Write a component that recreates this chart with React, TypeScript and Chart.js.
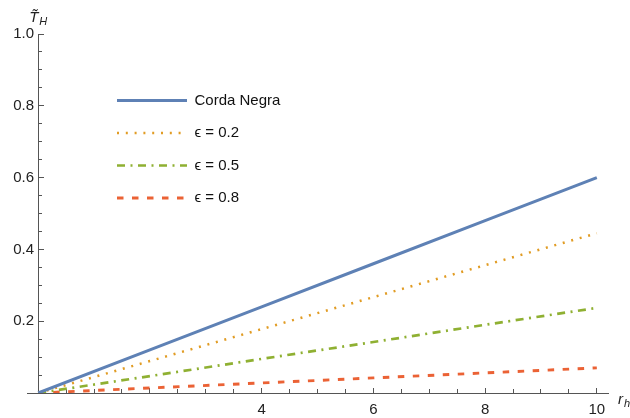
import React, { useEffect, useRef } from 'react';
import { Chart, registerables } from 'chart.js';

Chart.register(...registerables);

// ---- data ----
const xValues = [0, 2, 4, 6, 8, 10];
const cordaNegra = [0, 0.12, 0.24, 0.36, 0.48, 0.6];
const eps02 = [0, 0.089, 0.178, 0.267, 0.356, 0.445];
const eps05 = [0, 0.047, 0.095, 0.142, 0.19, 0.237];
const eps08 = [0, 0.014, 0.028, 0.042, 0.056, 0.07];
const seriesLabels = ['Corda Negra', 'ϵ = 0.2', 'ϵ = 0.5', 'ϵ = 0.8'];

const xMajorTicks = [2, 4, 6, 8, 10];
const xLabeledTicks = [4, 6, 8, 10];
const xMinorTicks = [0.5, 1, 1.5, 2.5, 3, 3.5, 4.5, 5, 5.5, 6.5, 7, 7.5, 8.5, 9, 9.5];
const yMajorTicks = [0.2, 0.4, 0.6, 0.8, 1.0];
const yMinorTicks = [0.05, 0.1, 0.15, 0.25, 0.3, 0.35, 0.45, 0.5, 0.55, 0.65, 0.7, 0.75, 0.85, 0.9, 0.95];

const FONT = "'Liberation Sans', Arial, sans-serif";
const AXIS = '#555555';
const TEXT = '#222222';

const toPoints = (ys: number[]) => xValues.map((x, i) => ({ x, y: ys[i] }));

const legendPlacer = {
  id: 'legendPlacer',
  afterLayout(chart: any) {
    const l = chart.legend;
    if (!l) return;
    const pad = l.options.labels.padding;
    const w = l.width;
    const h = l.height;
    l.left = 117 - pad;
    l.top = 93 - pad;
    l.right = l.left + w;
    l.bottom = l.top + h;
  },
};

const axisTitles = {
  id: 'axisTitles',
  afterDraw(chart: any) {
    const ctx = chart.ctx;
    const xs = chart.scales.x;
    const ys = chart.scales.y;
    const axisX = xs.getPixelForValue(0);
    const axisY = ys.getPixelForValue(0);
    const topY = ys.getPixelForValue(1);
    const rightX = chart.chartArea.right;
    ctx.save();
    ctx.fillStyle = TEXT;
    ctx.textBaseline = 'alphabetic';
    ctx.textAlign = 'left';
    // y title: T~ with subscript H
    ctx.font = `italic 15px ${FONT}`;
    const tx = axisX - 9;
    const ty = topY - 12;
    ctx.fillText('T\u0303', tx, ty);
    const tw = ctx.measureText('T').width;
    ctx.font = `italic 11px ${FONT}`;
    ctx.fillText('H', tx + tw + 1, ty + 3);
    // x title: r with subscript h
    ctx.font = `italic 15px ${FONT}`;
    const rx = rightX + 10;
    const ry = axisY + 11;
    ctx.fillText('r', rx, ry);
    const rw = ctx.measureText('r').width;
    ctx.font = `italic 11px ${FONT}`;
    ctx.fillText('h', rx + rw + 1, ry + 3);
    ctx.restore();
  },
};

export default function App() {
  const ref = useRef<HTMLCanvasElement | null>(null);

  useEffect(() => {
    document.body.style.margin = '0';
    const canvas = ref.current;
    if (!canvas) return;

    const mk = (label: string, data: number[], color: string, dash: number[], width: number) => ({
      label,
      data: toPoints(data),
      borderColor: color,
      backgroundColor: color,
      borderWidth: width,
      borderDash: dash,
      borderCapStyle: 'butt',
      pointRadius: 0,
      pointHoverRadius: 0,
      tension: 0,
      fill: false,
      xAxisID: 'x',
      yAxisID: 'y',
    });

    const chart = new Chart(canvas, {
      type: 'line',
      data: {
        datasets: [
          mk(seriesLabels[0], cordaNegra, '#5E81B5', [], 3),
          mk(seriesLabels[1], eps02, '#E19C24', [2, 6.8], 2.5),
          mk(seriesLabels[2], eps05, '#8FB032', [8, 5.5, 2, 5.5], 2.7),
          mk(seriesLabels[3], eps08, '#EB6235', [6.5, 8.5], 2.9),
        ] as any,
      },
      options: {
        responsive: false,
        animation: false,
        events: [],
        layout: { padding: { left: 27, right: 22, top: 34, bottom: 25 } },
        plugins: {
          tooltip: { enabled: false },
          legend: {
            display: true,
            position: 'chartArea' as any,
            align: 'start',
            labels: {
              usePointStyle: true,
              pointStyle: 'line',
              pointStyleWidth: 70,
              boxHeight: 15,
              padding: 17.5,
              color: '#111',
              font: { family: FONT, size: 15 },
              generateLabels: (c: any) => {
                const items = Chart.defaults.plugins.legend.labels.generateLabels(c);
                return items.map((it: any) => {
                  const ds: any = c.data.datasets[it.datasetIndex];
                  return {
                    ...it,
                    pointStyle: 'line',
                    lineDash: ds.borderDash,
                    lineWidth: ds.borderWidth,
                    strokeStyle: ds.borderColor,
                    fillStyle: ds.borderColor,
                    lineCap: 'butt',
                  };
                });
              },
            },
          },
        },
        scales: {
          x: {
            type: 'linear',
            axis: 'x',
            min: -0.2,
            max: 10.2,
            position: { y: 0 } as any,
            afterBuildTicks: (s: any) => {
              s.ticks = xMajorTicks.map((v) => ({ value: v }));
            },
            ticks: {
              autoSkip: false,
              maxRotation: 0,
              padding: 14,
              color: TEXT,
              font: { family: FONT, size: 15 },
              callback: (v: any) => (xLabeledTicks.includes(Number(v)) ? String(v) : ''),
            },
            grid: { drawOnChartArea: false, drawTicks: true, tickLength: -6, tickColor: AXIS, tickWidth: 1 },
            border: { display: true, color: AXIS, width: 1 },
          },
          x2: {
            type: 'linear',
            axis: 'x',
            min: -0.2,
            max: 10.2,
            position: { y: 0 } as any,
            afterBuildTicks: (s: any) => {
              s.ticks = xMinorTicks.map((v) => ({ value: v }));
            },
            ticks: { display: false, autoSkip: false },
            grid: { drawOnChartArea: false, drawTicks: true, tickLength: -4, tickColor: AXIS, tickWidth: 1 },
            border: { display: false },
          },
          y: {
            type: 'linear',
            axis: 'y',
            min: 0,
            max: 1,
            position: { x: 0 } as any,
            afterBuildTicks: (s: any) => {
              s.ticks = yMajorTicks.map((v) => ({ value: v }));
            },
            ticks: {
              autoSkip: false,
              padding: 6,
              color: TEXT,
              font: { family: FONT, size: 15 },
              callback: (v: any) => Number(v).toFixed(1) + ' ',
            },
            grid: { drawOnChartArea: false, drawTicks: true, tickLength: -6, tickColor: AXIS, tickWidth: 1 },
            border: { display: true, color: AXIS, width: 1 },
          },
          y2: {
            type: 'linear',
            axis: 'y',
            min: 0,
            max: 1,
            position: { x: 0 } as any,
            afterBuildTicks: (s: any) => {
              s.ticks = yMinorTicks.map((v) => ({ value: v }));
            },
            ticks: { display: false, autoSkip: false },
            grid: { drawOnChartArea: false, drawTicks: true, tickLength: -4, tickColor: AXIS, tickWidth: 1 },
            border: { display: false },
          },
        },
      } as any,
      plugins: [legendPlacer, axisTitles],
    });

    return () => chart.destroy();
  }, []);

  return (
    <div style={{ width: 630, height: 418 }}>
      <canvas ref={ref} width={630} height={418} style={{ display: 'block' }} />
    </div>
  );
}
